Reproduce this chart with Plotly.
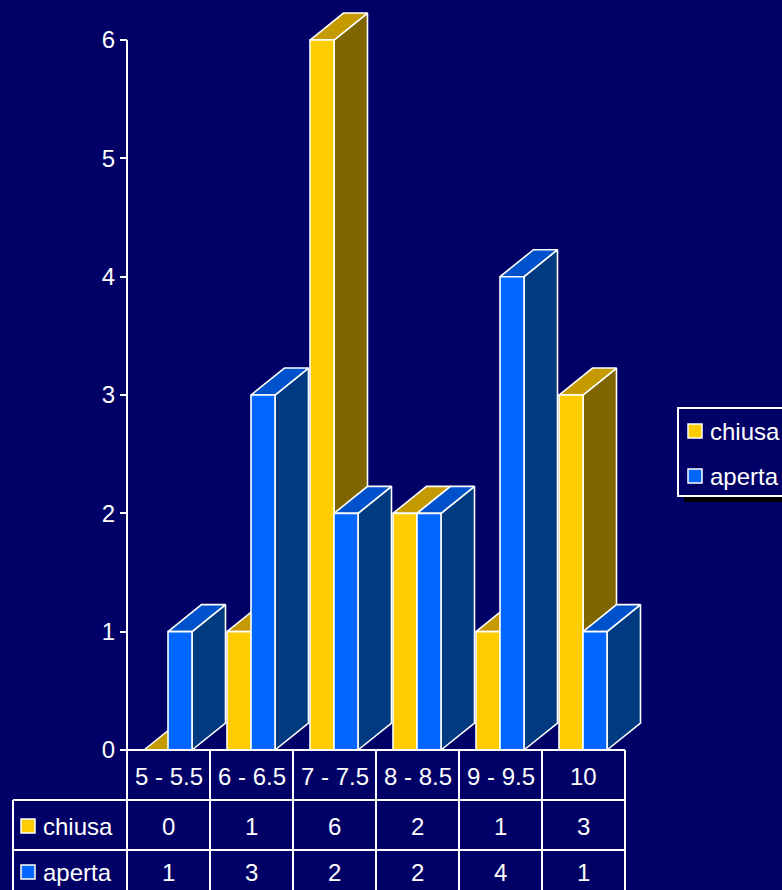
import plotly.graph_objects as go

# ---- data ----
categories = ["5 - 5.5", "6 - 6.5", "7 - 7.5", "8 - 8.5", "9 - 9.5", "10"]
series_names = ["chiusa", "aperta"]
chiusa = [0, 1, 6, 2, 1, 3]
aperta = [1, 3, 2, 2, 4, 1]
y_ticks = [0, 1, 2, 3, 4, 5, 6]

# ---- style / layout ----
W, H = 782, 890
BG = "#000066"
FONT = "Arial, Liberation Sans, sans-serif"
FS = 24
colors = {
    "chiusa": {"front": "#FFCC00", "side": "#806600", "top": "#C49A00"},
    "aperta": {"front": "#0066FF", "side": "#003A80", "top": "#0052CC"},
}

PX_CAT = 83.0      # pixels per category
X0_PX = 127.0      # pixel of x=0
PX_UNIT = 118.33   # pixels per y unit
Y0_PX = 750.0      # pixel of y=0

xr = [-X0_PX / PX_CAT, (W - X0_PX) / PX_CAT]
yr = [-(H - Y0_PX) / PX_UNIT, Y0_PX / PX_UNIT]

def dy_px(p):   # pixel offset -> y units
    return p / PX_UNIT

def dx_px(p):
    return p / PX_CAT

def ypix(p):    # absolute pixel row -> y value
    return (Y0_PX - p) / PX_UNIT

def xpix(p):
    return (p - X0_PX) / PX_CAT

GAP = dx_px(17)
BW = dx_px(24)
DX = dx_px(33.5)
DY = dy_px(27)

fig = go.Figure()

values = {"chiusa": chiusa, "aperta": aperta}
for s_idx, name in enumerate(series_names):
    faces = {"side": ([], []), "top": ([], []), "front": ([], [])}
    for i, v in enumerate(values[name]):
        x0 = i + GAP + s_idx * BW
        x1 = x0 + BW
        # side
        fx, fy = faces["side"]
        fx += [x1, x1 + DX, x1 + DX, x1, x1, None]
        fy += [0, DY, v + DY, v, 0, None]
        # top
        fx, fy = faces["top"]
        fx += [x0, x1, x1 + DX, x0 + DX, x0, None]
        fy += [v, v, v + DY, v + DY, v, None]
        # front
        fx, fy = faces["front"]
        fx += [x0, x1, x1, x0, x0, None]
        fy += [0, 0, v, v, 0, None]
    for face in ["side", "top", "front"]:
        fx, fy = faces[face]
        fig.add_trace(go.Scatter(
            x=fx, y=fy, mode="lines", fill="toself",
            fillcolor=colors[name][face],
            line=dict(color="white", width=1.6),
            hoverinfo="skip", showlegend=False,
        ))

# y axis line
fig.add_trace(go.Scatter(x=[0, 0], y=[y_ticks[0], y_ticks[-1]], mode="lines",
                         line=dict(color="white", width=2), hoverinfo="skip",
                         showlegend=False))

shapes = []
annotations = []
LW = 2
# ---- data table ----
n = len(categories)
row_bot = 895
left_px = 13
shapes.append(dict(type="line", xref="x", yref="y", x0=0, x1=n,
                   y0=ypix(750), y1=ypix(750), line=dict(color="white", width=LW)))
for rp in [800, 850]:
    shapes.append(dict(type="line", xref="x", yref="y", x0=xpix(left_px), x1=n,
                       y0=ypix(rp), y1=ypix(rp), line=dict(color="white", width=LW)))
for i in range(n + 1):
    shapes.append(dict(type="line", xref="x", yref="y", x0=i, x1=i,
                       y0=ypix(750), y1=ypix(row_bot), line=dict(color="white", width=LW)))
shapes.append(dict(type="line", xref="x", yref="y", x0=xpix(left_px), x1=xpix(left_px),
                   y0=ypix(800), y1=ypix(row_bot), line=dict(color="white", width=LW)))

for i, c in enumerate(categories):
    annotations.append(dict(x=i + 0.5, y=ypix(776), xref="x", yref="y", text=c,
                            showarrow=False, font=dict(family=FONT, size=FS, color="white")))
row_centers = [826, 872]
for r, name in enumerate(series_names):
    for i, v in enumerate(values[name]):
        annotations.append(dict(x=i + 0.5, y=ypix(row_centers[r]), xref="x", yref="y",
                                text=str(v), showarrow=False,
                                font=dict(family=FONT, size=FS, color="white")))
    yc = row_centers[r]
    shapes.append(dict(type="rect", xref="x", yref="y", x0=xpix(21), x1=xpix(35),
                       y0=ypix(yc - 7), y1=ypix(yc + 7),
                       fillcolor=colors[name]["front"], line=dict(color="white", width=1.5)))
    annotations.append(dict(x=xpix(41), y=ypix(yc), xref="x", yref="y", text=name,
                            xanchor="left", showarrow=False,
                            font=dict(family=FONT, size=FS, color="white")))

# ---- legend (drawn) ----
def px_x(p):
    return p / W

def px_y(p):
    return 1 - p / H

shapes.append(dict(type="rect", xref="paper", yref="paper", x0=px_x(684), x1=px_x(810),
                   y0=px_y(414), y1=px_y(502), fillcolor="black", line=dict(width=0)))
shapes.append(dict(type="rect", xref="paper", yref="paper", x0=px_x(678), x1=px_x(804),
                   y0=px_y(408), y1=px_y(496), fillcolor=BG, line=dict(color="white", width=2)))
leg_y = [431, 476]
for r, name in enumerate(series_names):
    yc = leg_y[r]
    shapes.append(dict(type="rect", xref="paper", yref="paper", x0=px_x(688), x1=px_x(702),
                       y0=px_y(yc - 7), y1=px_y(yc + 7),
                       fillcolor=colors[name]["front"], line=dict(color="white", width=1.5)))
    annotations.append(dict(x=px_x(708), y=px_y(yc), xref="paper", yref="paper", text=name,
                            xanchor="left", showarrow=False,
                            font=dict(family=FONT, size=FS, color="white")))

fig.update_layout(
    width=W, height=H, autosize=False,
    margin=dict(l=0, r=0, t=0, b=0, pad=0),
    paper_bgcolor=BG, plot_bgcolor=BG,
    showlegend=False,
    xaxis=dict(range=xr, visible=False, fixedrange=True),
    yaxis=dict(range=yr, anchor="free", position=X0_PX / W, side="left",
               tickvals=y_ticks, ticktext=[str(t) for t in y_ticks],
               ticks="outside", ticklen=7, tickwidth=2, tickcolor="white",
               showline=False, showgrid=False, zeroline=False,
               tickfont=dict(family=FONT, size=FS, color="white"),
               fixedrange=True),
    shapes=shapes, annotations=annotations,
)

fig.write_html("out.html")
